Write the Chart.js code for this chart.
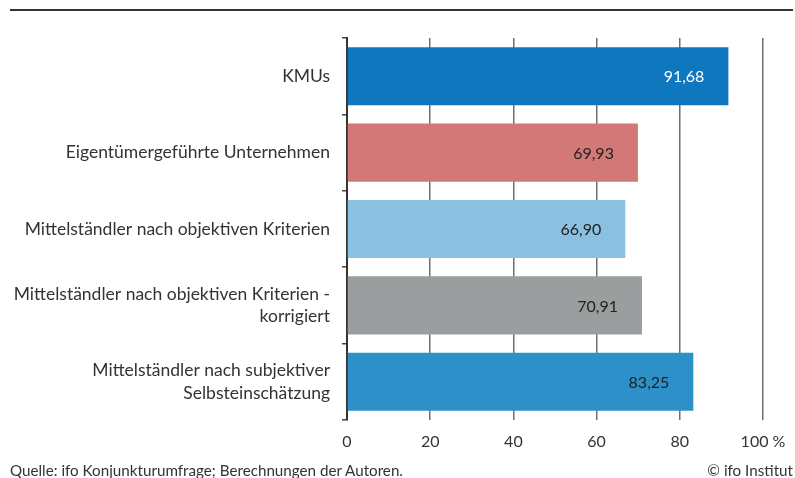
<!DOCTYPE html>
<html>
<head>
<meta charset="utf-8">
<script src="https://cdn.jsdelivr.net/npm/chart.js@4/dist/chart.umd.min.js"></script>
<style>
  html, body { margin:0; padding:0; background:#fff; }
  #wrap { position:relative; width:795px; height:478px; overflow:hidden; font-family: Lato, sans-serif; }
  #topline { position:absolute; left:10px; top:9px; width:783px; height:2px; background:#333; }
  #src { position:absolute; left:10px; top:461px; font-size:15.2px; color:#333; }
  #copy { position:absolute; right:2px; top:461px; font-size:15.2px; color:#333; }
  canvas { position:absolute; left:0; top:0; }
</style>
</head>
<body>
<div id="wrap">
  <div id="topline"></div>
  <canvas id="c" width="795" height="478"></canvas>
  <div id="src">Quelle: ifo Konjunkturumfrage; Berechnungen der Autoren.</div>
  <div id="copy">© ifo Institut</div>
</div>
<script>
const categories = [
  'KMUs',
  'Eigentümergeführte Unternehmen',
  'Mittelständler nach objektiven Kriterien',
  ['Mittelständler nach objektiven Kriterien -', 'korrigiert'],
  ['Mittelständler nach subjektiver', 'Selbsteinschätzung']
];
const values = [91.68, 69.93, 66.90, 70.91, 83.25];
const valueLabels = ['91,68', '69,93', '66,90', '70,91', '83,25'];
const barColors = ['#0f77bd', '#d27977', '#8ac1e0', '#9a9e9f', '#2e90c9'];
const labelColors = ['#ffffff', '#222222', '#222222', '#222222', '#222222'];
const xTicks = [0, 20, 40, 60, 80, 100];

const valuePlugin = {
  id: 'valueLabels',
  afterDatasetsDraw(chart) {
    const ctx = chart.ctx;
    const meta = chart.getDatasetMeta(0);
    ctx.save();
    ctx.font = '16px Lato, sans-serif';
    ctx.textAlign = 'right';
    ctx.textBaseline = 'middle';
    meta.data.forEach((bar, i) => {
      ctx.fillStyle = labelColors[i];
      ctx.fillText(valueLabels[i], bar.x - 24, bar.y + 1);
    });
    ctx.restore();
  }
};

new Chart(document.getElementById('c'), {
  type: 'bar',
  data: {
    labels: categories,
    datasets: [{
      data: values,
      backgroundColor: barColors,
      borderWidth: 0,
      categoryPercentage: 1,
      barPercentage: 0.76
    }]
  },
  options: {
    indexAxis: 'y',
    responsive: false,
    animation: false,
    devicePixelRatio: 1,
    layout: { padding: { top: 38, right: 32, left: 0, bottom: 0 } },
    plugins: { legend: { display: false }, tooltip: { enabled: false } },
    scales: {
      x: {
        min: 0, max: 100,
        afterBuildTicks(scale) { scale.ticks = xTicks.map(v => ({ value: v })); },
        afterFit(scale) { scale.height = 58; scale.paddingRight = 0; scale.paddingLeft = 0; },
        grid: { color: '#6f6f6f', lineWidth: 1.5, drawTicks: false },
        border: { display: false },
        ticks: {
          padding: 12,
          color: '#333',
          font: { family: 'Lato, sans-serif', size: 16 },
          callback: (v) => v === 100 ? '100 %' : String(v)
        }
      },
      y: {
        afterFit(scale) { scale.width = 347; },
        grid: { drawOnChartArea: false, drawTicks: true, tickLength: 5, color: '#444', lineWidth: 1.5, offset: true },
        border: { display: true, color: '#333', width: 2 },
        ticks: {
          padding: 12,
          color: '#333',
          font: { family: 'Lato, sans-serif', size: 17.5, lineHeight: 1.3 }
        }
      }
    }
  },
  plugins: [valuePlugin]
});
</script>
</body>
</html>
